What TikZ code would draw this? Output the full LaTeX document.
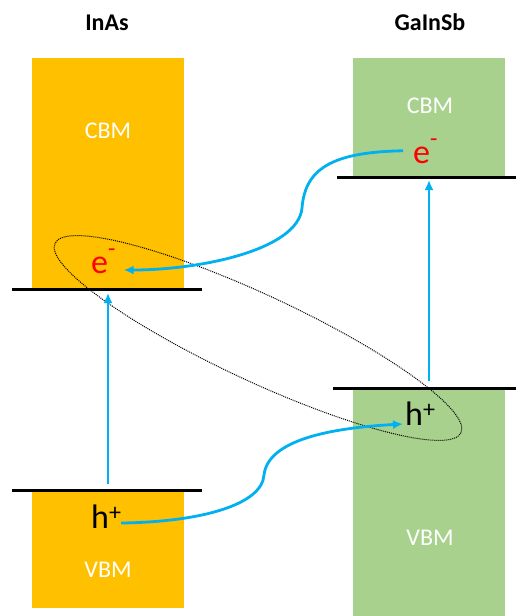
\documentclass[tikz,border=0pt]{standalone}
\usepackage{fontspec}
\setmainfont{Carlito}
\usetikzlibrary{arrows.meta,positioning}

\definecolor{inasfill}{HTML}{FFC000}
\definecolor{gasbfill}{HTML}{A9D18E}
\definecolor{carrierblue}{HTML}{00B0F0}

% raised charge sign after a carrier letter
\newcommand{\charge}[2][0.22em]{\raisebox{#1}{\fontsize{24}{24}\selectfont #2}}

\begin{document}
\begin{tikzpicture}[x=1pt, y=-1pt,
  band/.style={anchor=north west, inner sep=0pt, outer sep=0pt, minimum width=152pt},
  level/.style={line width=3pt},
  lbl/.style={text=white, anchor=base, inner sep=0pt, font=\fontsize{24}{28}\selectfont},
  title/.style={anchor=base, inner sep=0pt, font=\bfseries\fontsize{24}{28}\selectfont},
  carrier/.style={anchor=base west, inner sep=0pt, font=\fontsize{34}{40}\selectfont},
  jump/.style={-{Latex[length=10pt,width=9pt]}, line width=2.8pt, draw=carrierblue},
  pair/.style={densely dotted, line width=1pt}
]
\useasboundingbox (0,0) rectangle (516,616);

% band blocks
\node[band, fill=inasfill, minimum height=231pt] (cbmL) at (32,58) {};
\node[band, fill=inasfill, minimum height=118pt] (vbmL) at (32,490) {};
\node[band, fill=gasbfill, minimum height=119pt] (cbmR) at (353,58) {};
\node[band, fill=gasbfill, minimum height=228pt] (vbmR) at (353,388) {};

% band edges
\draw[level] ([xshift=-20pt]cbmL.south west) -- ([xshift=18pt]cbmL.south east);
\draw[level] ([xshift=-20pt]vbmL.north west) -- ([xshift=18pt]vbmL.north east);
\draw[level] ([xshift=-16pt]cbmR.south west) -- ([xshift=11pt]cbmR.south east);
\draw[level] ([xshift=-20pt]vbmR.north west) -- ([xshift=11pt]vbmR.north east);

% labels
\node[title] (inas) at (107,30) {InAs};
\node[title] (gainsb) at (430,30) {GaInSb};
\node[lbl] (cbmLtxt) at (108,138) {CBM};
\node[lbl] (vbmLtxt) at (108,577) {VBM};
\node[lbl] (cbmRtxt) at (430,113) {CBM};
\node[lbl] (vbmRtxt) at (430,545) {VBM};

% carriers
\node[carrier, text=red] (eL) at (91,273) {e\charge[0.5em]{-}};
\node[carrier, text=red] (eR) at (413,163) {e\charge[0.5em]{-}};
\node[carrier] (hL) at (91,528) {h\charge{+}};
\node[carrier] (hR) at (405,425) {h\charge{+}};

% exciton
\draw[pair, rotate around={-25:(258,338)}] (258,338) ellipse [x radius=224, y radius=43];

% excitation
\draw[jump] ([yshift=6pt]vbmL.north) -- ([yshift=-4pt]cbmL.south);
\draw[jump] ([yshift=7pt]vbmR.north) -- ([yshift=-3pt]cbmR.south);

% transfer across the interface
\draw[jump] ([xshift=-10pt]eR.west) .. controls (330,152) and (305,170) .. (302,208)
  .. controls (298,250) and (200,270) .. ([xshift=8pt,yshift=3pt]eL.base east);
\draw[jump] ([yshift=5pt]hL.base east) .. controls (200,522) and (262,505) .. (264,475)
  .. controls (268,440) and (330,428) .. ([xshift=-2pt,yshift=1pt]hR.base west);

\end{tikzpicture}
\end{document}
